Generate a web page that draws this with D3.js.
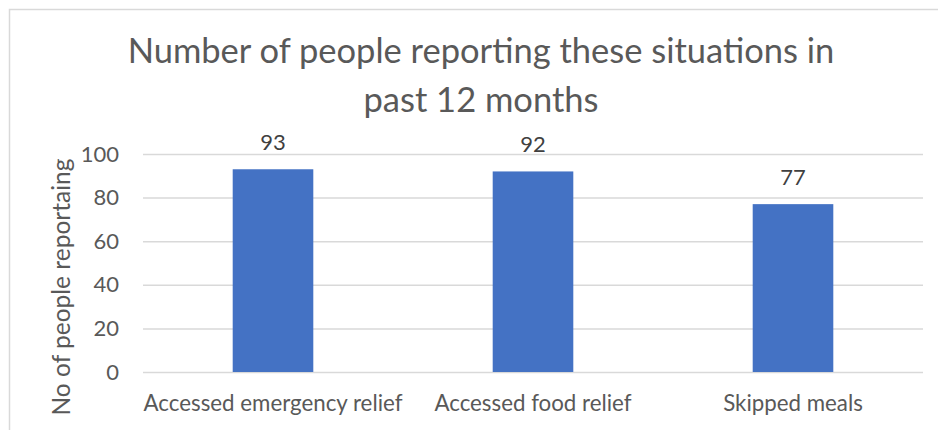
<!DOCTYPE html>
<html>
<head>
<meta charset="utf-8">
<script src="https://cdn.jsdelivr.net/npm/d3@7"></script>
<style>
  body { margin: 0; background: #fff; }
  text { font-family: Lato, "Open Sans", sans-serif; fill: #595959; }
</style>
</head>
<body>
<div id="chart"></div>
<script>
const categories = ["Accessed emergency relief", "Accessed food relief", "Skipped meals"];
const values = [93, 92, 77];
const yTicks = [0, 20, 40, 60, 80, 100];
const titleLines = ["Number of people reporting these situations in", "past 12 months"];
const yTitle = "No of people reportaing";

const width = 938, height = 430;
const plot = { left: 143, right: 923, top: 154, bottom: 372 };

const svg = d3.select("#chart").append("svg")
  .attr("width", width)
  .attr("height", height);

// chart frame
svg.append("rect")
  .attr("x", 9.5).attr("y", 9.5)
  .attr("width", 940).attr("height", 440)
  .attr("fill", "#fff")
  .attr("stroke", "#d9d9d9")
  .attr("stroke-width", 1.5);

const x = d3.scaleBand()
  .domain(categories)
  .range([plot.left, plot.right])
  .paddingInner(0.69)
  .paddingOuter(0.345);

const y = d3.scaleLinear().domain([0, 100]).range([plot.bottom, plot.top]);

// gridlines
svg.append("g")
  .attr("transform", `translate(${plot.left},0)`)
  .call(d3.axisLeft(y).tickValues(yTicks).tickSize(-(plot.right - plot.left)).tickFormat(""))
  .call(g => g.select(".domain").remove())
  .call(g => g.selectAll("line").attr("stroke", "#d9d9d9").attr("stroke-width", 1.5));

// y tick labels
svg.append("g")
  .attr("transform", `translate(${plot.left - 24},0)`)
  .call(d3.axisLeft(y).tickValues(yTicks).tickSize(0).tickPadding(0))
  .call(g => g.select(".domain").remove())
  .call(g => g.selectAll("text")
    .attr("font-size", 22)
    .style("font-family", "Lato, sans-serif")
    .attr("fill", "#595959"));

// bars
svg.selectAll(".bar")
  .data(values)
  .join("rect")
  .attr("class", "bar")
  .attr("x", (d, i) => x(categories[i]))
  .attr("width", x.bandwidth())
  .attr("y", d => y(d))
  .attr("height", d => y(0) - y(d))
  .attr("fill", "#4472c4");

// data labels
svg.selectAll(".lbl")
  .data(values)
  .join("text")
  .attr("class", "lbl")
  .attr("x", (d, i) => x(categories[i]) + x.bandwidth() / 2)
  .attr("y", d => y(d) - 19)
  .attr("text-anchor", "middle")
  .attr("font-size", 22)
  .style("fill", "#404040")
  .text(d => d);

// x axis labels
svg.append("g")
  .attr("transform", `translate(0,${plot.bottom})`)
  .call(d3.axisBottom(x).tickSize(0).tickPadding(0))
  .call(g => g.select(".domain").remove())
  .call(g => g.selectAll("text")
    .attr("y", 39)
    .attr("dy", 0)
    .attr("font-size", 22.3)
    .style("font-family", "Lato, sans-serif")
    .attr("fill", "#595959"));

// title
svg.append("g").selectAll("text")
  .data(titleLines)
  .join("text")
  .attr("x", 481)
  .attr("y", (d, i) => 63 + i * 48.5)
  .attr("text-anchor", "middle")
  .attr("font-size", 34.5)
  .text(d => d);

// y axis title
svg.append("text")
  .attr("transform", `translate(70,${(plot.top + plot.bottom) / 2 + 24}) rotate(-90)`)
  .attr("text-anchor", "middle")
  .attr("font-size", 24.5)
  .text(yTitle);
</script>
</body>
</html>
